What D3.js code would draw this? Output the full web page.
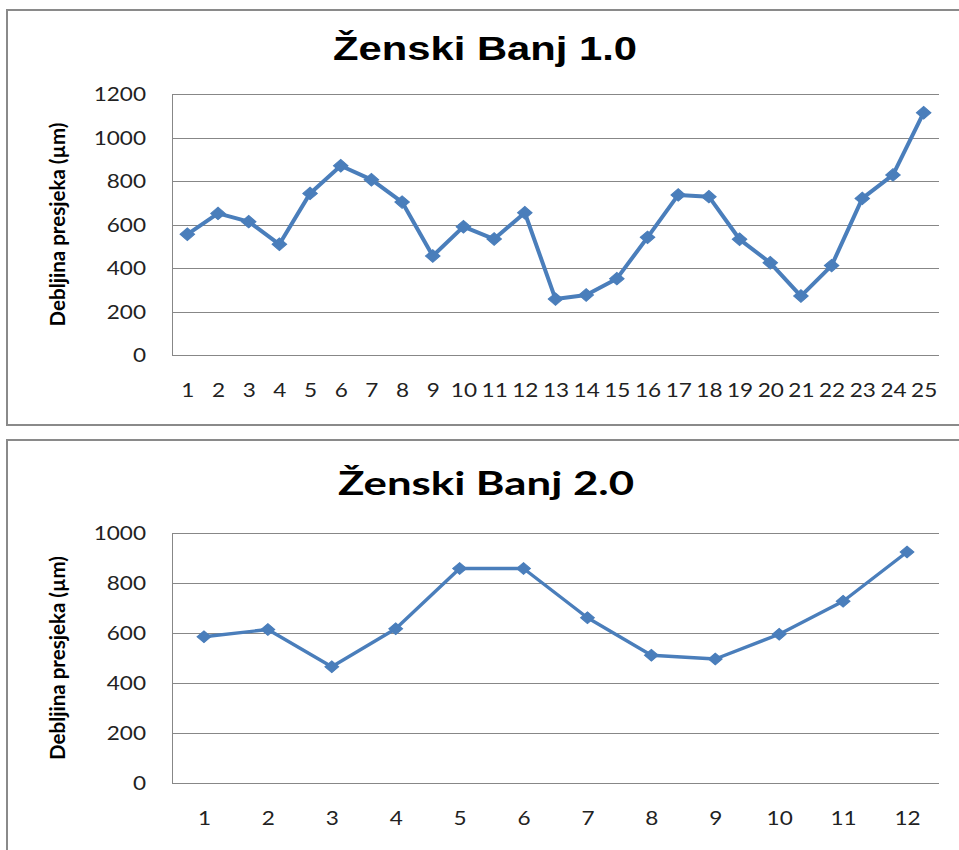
<!DOCTYPE html>
<html>
<head>
<meta charset="utf-8">
<script src="https://cdn.jsdelivr.net/npm/d3@7"></script>
<style>
  html, body { margin: 0; padding: 0; background: #fff; }
  svg { display: block; }
</style>
</head>
<body>
<svg id="chart" width="959" height="850"></svg>
<script>
// ---------- data ----------
const title1 = "Ženski Banj  1.0";
const categories1 = d3.range(1, 26).map(String);
const values1 = [555, 651, 613, 509, 743, 870, 806, 703, 455, 590, 533, 654, 257,
                 276, 351, 541, 736, 728, 532, 424, 271, 411, 720, 828, 1114];
const yTicks1 = [0, 200, 400, 600, 800, 1000, 1200];

const title2 = "Ženski Banj 2.0";
const categories2 = d3.range(1, 13).map(String);
const values2 = [585, 614, 465, 617, 858, 858, 661, 511, 496, 595, 727, 924];
const yTicks2 = [0, 200, 400, 600, 800, 1000];

const yAxisLabel = "Debljina presjeka (µm)";

// ---------- style ----------
const SX = 1.22;               // horizontal stretch of the original picture
const lineColor = "#4a7ebb";
const gridColor = "#878787";
const frameColor = "#8a8a8a";
const tickFont = "Lato, 'Open Sans', sans-serif";

const svg = d3.select("#chart");
svg.append("rect").attr("width", 959).attr("height", 850).attr("fill", "#fff");

function drawChart(cfg) {
  const g = svg.append("g");
  g.append("rect")
    .attr("x", cfg.frame.x).attr("y", cfg.frame.y)
    .attr("width", cfg.frame.w).attr("height", cfg.frame.h)
    .attr("fill", "none").attr("stroke", frameColor).attr("stroke-width", 2);

  const x = d3.scalePoint().domain(cfg.categories).range([cfg.left, cfg.right]).padding(0.5);
  const y = d3.scaleLinear().domain([0, d3.max(cfg.yTicks)]).range([cfg.bottom, cfg.top]);

  g.append("g").selectAll("line").data(cfg.yTicks).join("line")
    .attr("x1", cfg.left).attr("x2", cfg.right)
    .attr("y1", d => Math.round(y(d)) + 0.5).attr("y2", d => Math.round(y(d)) + 0.5)
    .attr("stroke", gridColor).attr("stroke-width", 1);
  g.append("line")
    .attr("x1", cfg.left + 0.5).attr("x2", cfg.left + 0.5)
    .attr("y1", y(d3.max(cfg.yTicks))).attr("y2", y(0))
    .attr("stroke", gridColor).attr("stroke-width", 1);

  const yAxis = g.append("g").attr("transform", `translate(${cfg.left},0)`)
    .call(d3.axisLeft(y).tickValues(cfg.yTicks).tickSize(0).tickPadding(0).tickFormat(d3.format("d")));
  yAxis.select(".domain").remove();
  yAxis.selectAll("text")
    .attr("x", -26 / SX).attr("dy", "0.36em")
    .attr("transform", `scale(${SX},1)`)
    .attr("font-family", tickFont).attr("font-size", 18.5).attr("fill", "#222");

  const xAxis = g.append("g").attr("transform", `translate(0,${cfg.bottom})`)
    .call(d3.axisBottom(x).tickSize(0).tickPadding(0));
  xAxis.select(".domain").remove();
  xAxis.selectAll("text")
    .attr("y", cfg.xLabelOffset).attr("dy", 0)
    .attr("transform", `scale(${SX},1)`)
    .attr("font-family", tickFont).attr("font-size", 18.5).attr("fill", "#222");

  g.append("text")
    .attr("transform", `translate(${cfg.yLabelX},${(cfg.top + cfg.bottom) / 2}) rotate(-90) scale(1,${SX})`)
    .attr("text-anchor", "middle").attr("dy", "0.35em")
    .attr("font-family", tickFont).attr("font-weight", "bold").attr("font-size", 17.5)
    .attr("textLength", 204).attr("lengthAdjust", "spacingAndGlyphs")
    .attr("fill", "#000")
    .text(yAxisLabel);

  g.append("text")
    .attr("x", cfg.titleX).attr("y", cfg.titleY)
    .attr("text-anchor", "middle")
    .attr("font-family", cfg.titleFont).attr("font-weight", "bold").attr("font-size", cfg.titleSize)
    .attr("textLength", cfg.titleLen).attr("lengthAdjust", "spacingAndGlyphs")
    .attr("fill", "#000")
    .text(cfg.title);

  const data = cfg.categories.map((c, i) => ({ c, v: cfg.values[i] }));
  g.append("path").datum(data)
    .attr("fill", "none").attr("stroke", lineColor).attr("stroke-width", cfg.lineWidth)
    .attr("stroke-linejoin", "round")
    .attr("d", d3.line().x(d => x(d.c)).y(d => y(d.v)));

  const sym = d3.symbol().type(d3.symbolSquare).size(cfg.markerSize);
  g.append("g").selectAll("path").data(data).join("path")
    .attr("transform", d => `translate(${x(d.c)},${y(d.v)}) scale(${SX * 0.95},1) rotate(45)`)
    .attr("d", sym).attr("fill", lineColor).attr("stroke", lineColor).attr("stroke-width", 1);
}

drawChart({
  frame: { x: 7, y: 10, w: 970, h: 415 },
  categories: categories1, values: values1, yTicks: yTicks1,
  left: 172, right: 939, top: 94, bottom: 355,
  xLabelOffset: 42, yLabelX: 58, lineWidth: 4, markerSize: 78,
  title: title1, titleX: 485, titleY: 60, titleSize: 33,
  titleFont: "'Liberation Sans', Arial, sans-serif", titleLen: 304
});

drawChart({
  frame: { x: 7, y: 440, w: 970, h: 430 },
  categories: categories2, values: values2, yTicks: yTicks2,
  left: 172, right: 939, top: 533, bottom: 783,
  xLabelOffset: 42, yLabelX: 58, lineWidth: 3.4, markerSize: 70,
  title: title2, titleX: 486, titleY: 495, titleSize: 32,
  titleFont: "Lato, 'Open Sans', sans-serif", titleLen: 296
});
</script>
</body>
</html>
